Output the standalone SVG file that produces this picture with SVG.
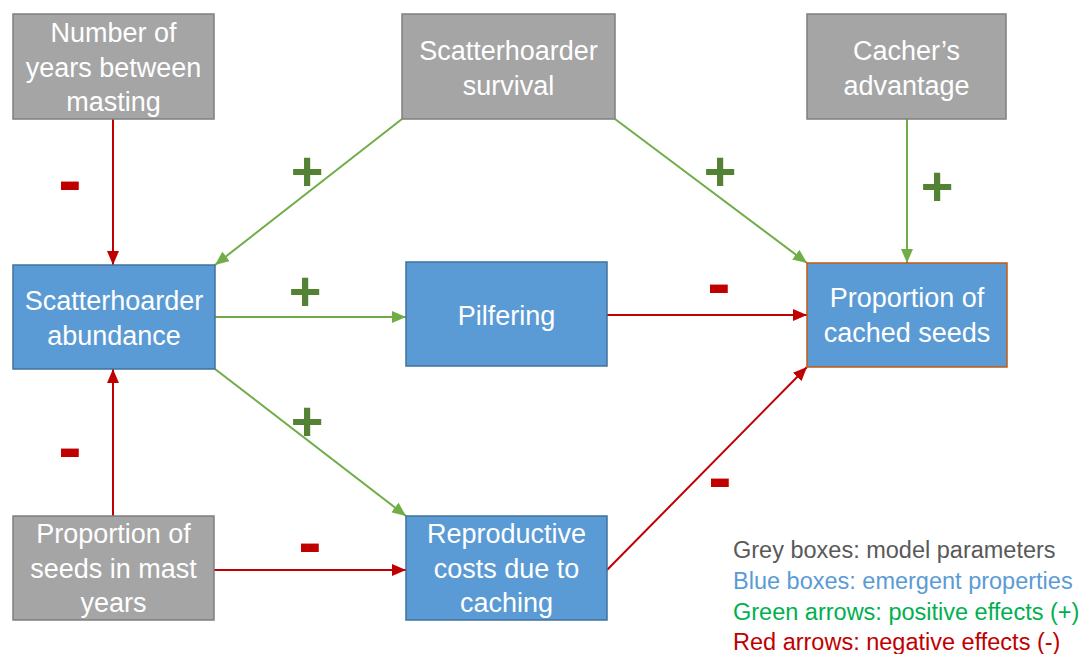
<svg xmlns="http://www.w3.org/2000/svg" width="1083" height="654" viewBox="0 0 1083 654">
<defs>
<style>
.grey{fill:#A5A5A5;stroke:#7F7F7F;stroke-width:1.5}
.blue{fill:#5B9BD5;stroke:#41719C;stroke-width:1.5}
.bt{font-family:"Liberation Sans",Arial,sans-serif;font-size:27px;fill:#FFFFFF;text-anchor:middle}
.g{stroke:#70AD47;stroke-width:2;fill:none}
.r{stroke:#C00000;stroke-width:2;fill:none}
.plus{font-family:"Liberation Sans",Arial,sans-serif;font-weight:bold;font-size:56px;fill:#548235;text-anchor:middle}
.minus{font-family:"Liberation Sans",Arial,sans-serif;font-weight:bold;font-size:70px;fill:#C00000;text-anchor:middle}
.leg{font-family:"Liberation Sans",Arial,sans-serif;font-size:23.5px}
</style>
<marker id="ag" viewBox="0 0 14 12" refX="14" refY="6" markerWidth="14" markerHeight="12" markerUnits="userSpaceOnUse" orient="auto"><path d="M0,0 L14,6 L0,12 z" fill="#70AD47"/></marker>
<marker id="ar" viewBox="0 0 14 12" refX="14" refY="6" markerWidth="14" markerHeight="12" markerUnits="userSpaceOnUse" orient="auto"><path d="M0,0 L14,6 L0,12 z" fill="#C00000"/></marker>
</defs>
<rect width="1083" height="654" fill="#FFFFFF"/>
<g id="connectors">
<line class="r" x1="113" y1="119" x2="113" y2="265" marker-end="url(#ar)"/>
<line class="g" x1="402" y1="119" x2="215" y2="265" marker-end="url(#ag)"/>
<line class="g" x1="615" y1="119" x2="807" y2="263" marker-end="url(#ag)"/>
<line class="g" x1="907" y1="119" x2="907" y2="263" marker-end="url(#ag)"/>
<line class="g" x1="215" y1="317" x2="406" y2="317" marker-end="url(#ag)"/>
<line class="r" x1="607" y1="315" x2="807" y2="315" marker-end="url(#ar)"/>
<line class="g" x1="215" y1="369" x2="406" y2="516" marker-end="url(#ag)"/>
<line class="r" x1="113" y1="516" x2="113" y2="369" marker-end="url(#ar)"/>
<line class="r" x1="214" y1="570" x2="406" y2="570" marker-end="url(#ar)"/>
<line class="r" x1="607" y1="570" x2="807" y2="367" marker-end="url(#ar)"/>
<text class="minus" x="70" y="204">-</text>
<text class="plus" x="307" y="190">+</text>
<text class="plus" x="720" y="190">+</text>
<text class="plus" x="937" y="205">+</text>
<text class="plus" x="305" y="310">+</text>
<text class="minus" x="719" y="307">-</text>
<text class="plus" x="307" y="440">+</text>
<text class="minus" x="70" y="471">-</text>
<text class="minus" x="310" y="566">-</text>
<text class="minus" x="720" y="501">-</text>
</g>
<g id="n_years">
<rect class="grey" x="13" y="14" width="201" height="105"/>
<text class="bt"><tspan x="113.5" y="42">Number of</tspan><tspan x="113.5" y="77">years between</tspan><tspan x="113.5" y="111">masting</tspan></text>
</g>
<g id="n_survival">
<rect class="grey" x="402" y="14" width="213" height="105"/>
<text class="bt"><tspan x="508.5" y="60">Scatterhoarder</tspan><tspan x="508.5" y="95">survival</tspan></text>
</g>
<g id="n_cacher">
<rect class="grey" x="807" y="14" width="199" height="105"/>
<text class="bt"><tspan x="906.5" y="60">Cacher’s</tspan><tspan x="906.5" y="95">advantage</tspan></text>
</g>
<g id="n_abundance">
<rect class="blue" x="13" y="265" width="202" height="104"/>
<text class="bt"><tspan x="114" y="310">Scatterhoarder</tspan><tspan x="114" y="345">abundance</tspan></text>
</g>
<g id="n_pilfering">
<rect class="blue" x="406" y="262" width="201" height="104"/>
<text class="bt" x="506.5" y="325">Pilfering</text>
</g>
<g id="n_proportion">
<rect x="807" y="263" width="200" height="104" fill="#5B9BD5" stroke="#C55A11" stroke-width="1.5"/>
<text class="bt"><tspan x="907" y="307">Proportion of</tspan><tspan x="907" y="342">cached seeds</tspan></text>
</g>
<g id="n_mast">
<rect class="grey" x="13" y="516" width="201" height="104"/>
<text class="bt"><tspan x="113.5" y="543">Proportion of</tspan><tspan x="113.5" y="578">seeds in mast</tspan><tspan x="113.5" y="612">years</tspan></text>
</g>
<g id="n_costs">
<rect class="blue" x="406" y="516" width="201" height="104"/>
<text class="bt"><tspan x="506.5" y="543">Reproductive</tspan><tspan x="506.5" y="578">costs due to</tspan><tspan x="506.5" y="612">caching</tspan></text>
</g>
<g id="legend">
<text class="leg" x="733" y="558" fill="#595959">Grey boxes: model parameters</text>
<text class="leg" x="733" y="589" fill="#5B9BD5">Blue boxes: emergent properties</text>
<text class="leg" x="733" y="620" fill="#00B050">Green arrows: positive effects (+)</text>
<text class="leg" x="733" y="650" fill="#C00000">Red arrows: negative effects (-)</text>
</g>
</svg>
